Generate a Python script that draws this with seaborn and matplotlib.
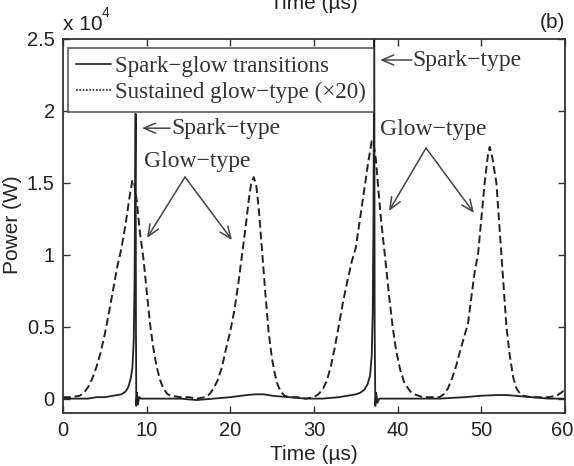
import matplotlib
matplotlib.use("Agg")
import matplotlib.pyplot as plt
import matplotlib.transforms as mtransforms
import seaborn as sns
import pandas as pd

# ---------------- data ----------------
# Sustained glow-type (x20), power in units of 1e4 W
glow_t = [0, 1, 2, 2.5, 3, 3.5, 4, 4.5, 5, 5.5, 6, 6.5, 7, 7.5, 8.0, 8.3, 8.5, 8.8, 9.2, 9.6,
          10.0, 10.4, 10.8, 11.2, 11.6, 12.0, 12.5, 13, 14, 15, 16, 17, 17.5, 18, 18.5, 19,
          19.5, 20, 20.5, 21, 21.4, 21.8, 22.2, 22.5, 22.8, 23.1, 23.4, 23.8, 24.2, 24.6,
          25.0, 25.5, 26.0, 26.5, 27, 28, 29, 30, 30.5, 31, 31.5, 32, 32.5, 33, 33.5, 34,
          34.5, 35, 35.5, 36, 36.5, 36.9, 37.1, 37.4, 37.7, 38.0, 38.5, 39.0, 39.4, 39.8,
          40.3, 40.8, 41.5, 42, 43, 44, 45, 45.5, 46, 46.5, 47, 47.5, 48, 48.4, 48.8, 49.2,
          49.6, 50.0, 50.4, 50.8, 51.0, 51.3, 51.8, 52.1, 52.4, 52.7, 53.0, 53.4, 53.8,
          54.2, 54.7, 55, 56, 57, 58, 59, 59.5, 60]
glow_p = [0.01, 0.01, 0.02, 0.04, 0.08, 0.14, 0.22, 0.32, 0.45, 0.60, 0.76, 0.92, 1.05, 1.22,
          1.42, 1.52, 1.50, 1.38, 1.15, 0.98, 0.75, 0.52, 0.35, 0.22, 0.13, 0.07, 0.03, 0.02,
          0.01, 0.01, 0.0, 0.01, 0.03, 0.07, 0.13, 0.22, 0.35, 0.47, 0.62, 0.82, 1.0, 1.18,
          1.38, 1.50, 1.54, 1.48, 1.32, 1.02, 0.72, 0.45, 0.27, 0.12, 0.05, 0.02, 0.01, 0.01,
          0.0, 0.01, 0.03, 0.06, 0.12, 0.22, 0.36, 0.52, 0.68, 0.82, 0.95, 1.05, 1.25, 1.45,
          1.65, 1.79, 1.78, 1.66, 1.45, 1.25, 0.98, 0.70, 0.50, 0.34, 0.20, 0.11, 0.05, 0.03,
          0.01, 0.01, 0.01, 0.03, 0.07, 0.14, 0.23, 0.34, 0.44, 0.52, 0.70, 0.88, 1.00, 1.25,
          1.50, 1.70, 1.75, 1.68, 1.50, 1.25, 1.00, 0.75, 0.50, 0.30, 0.15, 0.07, 0.03, 0.02,
          0.01, 0.01, 0.01, 0.02, 0.04, 0.06]

# Spark-glow transitions, power in units of 1e4 W
spark_t = [0, 1, 2, 3, 4, 5, 6, 6.5, 7.0, 7.5, 7.8, 8.1, 8.3, 8.45, 8.55, 8.62, 8.68, 8.72,
           8.76, 8.85, 8.95, 9.1, 9.3, 10, 12, 14, 16, 18, 20, 22, 23, 24, 25, 27, 29, 31,
           33, 34, 35, 35.5, 36.0, 36.4, 36.7, 36.9, 37.02, 37.1, 37.16, 37.2, 37.25, 37.33,
           37.43, 37.58, 37.8, 39, 42, 45, 48, 50, 52, 53, 54, 56, 58, 60]
spark_p = [0.0, 0.0, 0.0, 0.0, 0.01, 0.01, 0.02, 0.025, 0.03, 0.05, 0.08, 0.14, 0.22, 0.4,
           0.8, 1.4, 1.98, 0.5, -0.05, 0.04, -0.04, 0.01, 0.0, 0.0, 0.0, 0.0, -0.01, 0.0,
           0.01, 0.025, 0.03, 0.03, 0.02, 0.01, 0.0, 0.0, 0.01, 0.02, 0.03, 0.04, 0.06, 0.1,
           0.16, 0.3, 0.6, 1.2, 2.0, 2.7, 0.5, -0.05, 0.04, -0.03, 0.0, 0.0, 0.0, 0.0, 0.01,
           0.02, 0.025, 0.025, 0.02, 0.01, 0.0, 0.0]

x_ticks = [0, 10, 20, 30, 40, 50, 60]
y_ticks = [0, 0.5, 1, 1.5, 2, 2.5]
y_tick_labels = ["0", "0.5", "1", "1.5", "2", "2.5"]
legend_labels = ["Spark\u2212glow transitions", "Sustained glow\u2212type (\u00d720)"]

SCALE = 1e4
df_glow = pd.DataFrame({"t": glow_t, "P": [v * SCALE for v in glow_p]})
df_spark = pd.DataFrame({"t": spark_t, "P": [v * SCALE for v in spark_p]})

# ---------------- figure ----------------
sns.set_theme(style="ticks")
plt.rcParams["font.family"] = ["Liberation Sans", "DejaVu Sans"]

fig = plt.figure(figsize=(5.74, 4.66), dpi=100)
ax = fig.add_axes([63 / 574, 53 / 466, 502 / 574, 374 / 466])

ink = "#222222"
sns.lineplot(data=df_glow, x="t", y="P", ax=ax, color=ink, lw=1.4,
             linestyle=(0, (4, 2)), sort=False, estimator=None)
sns.lineplot(data=df_spark, x="t", y="P", ax=ax, color=ink, lw=1.3,
             sort=False, estimator=None)

ax.set_xlim(0, 60)
ax.set_ylim(-1000, 25000)
ax.set_xticks(x_ticks)
ax.set_xticklabels([str(v) for v in x_ticks])
ax.set_yticks([v * SCALE for v in y_ticks])
ax.set_yticklabels(y_tick_labels)
ax.set_xlabel("")
ax.set_ylabel("")
ax.tick_params(direction="in", length=5, width=1, top=True, right=True,
               labelsize=14.5, colors="#333333", labelcolor="#222222", pad=6)
for s in ax.spines.values():
    s.set_color("#333333")
    s.set_linewidth(1.3)
# nudge the last x tick label so it stays inside the canvas
last = ax.get_xticklabels()[-1]
last.set_transform(last.get_transform() +
                   mtransforms.ScaledTranslation(-3 / 100, 0, fig.dpi_scale_trans))

# labels
fig.text(314 / 574, 1 - 455 / 466, "Time (\u00b5s)", ha="center", va="center",
         fontsize=15, color="#222222")
fig.text(314 / 574, 1 - 13 / 466, "Time (\u00b5s)", ha="center", va="bottom",
         fontsize=15, color="#222222")
fig.text(12 / 574, 1 - 225 / 466, "Power (W)", ha="center", va="center",
         rotation=90, fontsize=15, color="#222222")
fig.text(63 / 574, 1 - 24 / 466, "x 10", ha="left", va="center",
         fontsize=15, color="#222222")
fig.text(102 / 574, 1 - 13 / 466, "4", ha="left", va="center",
         fontsize=10, color="#222222")
fig.text(565 / 574, 1 - 22 / 466, "(b)", ha="right", va="center",
         fontsize=15, color="#222222")

# legend
from matplotlib.lines import Line2D
handles = [Line2D([], [], color=ink, lw=1.2, linestyle="-"),
           Line2D([], [], color=ink, lw=1.2, linestyle=(0, (1, 1)))]
leg = ax.legend(handles, legend_labels, loc="upper left",
                bbox_to_anchor=(5 / 502, 1 - 9 / 374), frameon=True, fancybox=False,
                prop={"family": "Liberation Serif", "size": 16.6},
                handlelength=1.5, handletextpad=0.2, labelspacing=0.22,
                borderpad=0.35, borderaxespad=0.0)
leg.get_frame().set_edgecolor("#333333")
leg.get_frame().set_linewidth(1.2)
for t in leg.get_texts():
    t.set_color("#333333")

# annotations
serif = {"family": "Liberation Serif", "size": 17}
arrow = dict(arrowstyle="->,head_length=0.7,head_width=0.3", color="#444444", lw=1.1,
             shrinkA=0, shrinkB=0)
ax.annotate("", xy=(9.44, 18800), xytext=(12.8, 18800), arrowprops=arrow)
ax.text(12.9, 18800, "Spark\u2212type", ha="left", va="center", color="#333333", **serif)
ax.annotate("", xy=(37.9, 23540), xytext=(41.7, 23540), arrowprops=arrow)
ax.text(41.8, 23540, "Spark\u2212type", ha="left", va="center", color="#333333", **serif)

ax.text(16.1, 16450, "Glow\u2212type", ha="center", va="center", color="#333333", **serif)
ax.annotate("", xy=(10.04, 11166), xytext=(14.58, 15407), arrowprops=arrow)
ax.annotate("", xy=(20.2, 11027), xytext=(14.58, 15407), arrowprops=arrow)

ax.text(44.28, 18700, "Glow\u2212type", ha="center", va="center", color="#333333", **serif)
ax.annotate("", xy=(38.96, 13043), xytext=(43.39, 17423), arrowprops=arrow)
ax.annotate("", xy=(49.12, 12904), xytext=(43.39, 17423), arrowprops=arrow)

fig.savefig("out.png", dpi=100)
